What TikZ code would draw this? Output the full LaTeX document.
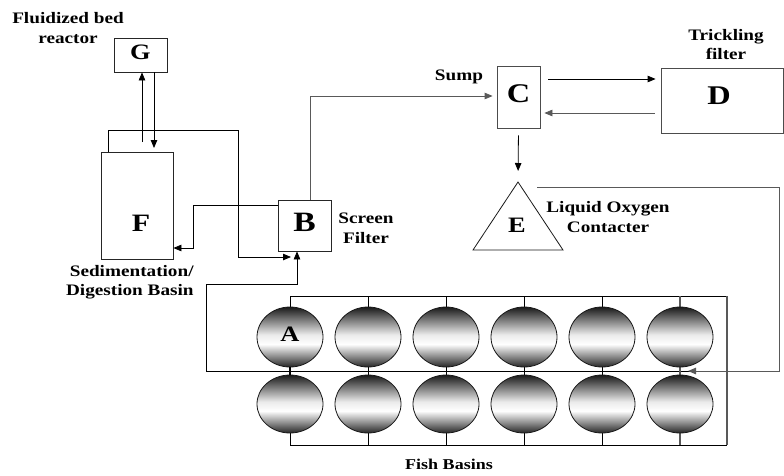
\documentclass[tikz,border=0pt]{standalone}
\usepackage{fontspec}
\usepackage{graphicx}
\setmainfont{Liberation Serif}
\usetikzlibrary{arrows.meta,shapes.geometric}

% wide bold lettering, one or more centred lines
\newcommand\wtext[2][c]{\scalebox{1.2}[1]{\begin{tabular}{@{}#1@{}}#2\end{tabular}}}

% dark rim at top and bottom, bright band just below the middle
\pgfdeclareverticalshading{basinshade}{100bp}{%
  color(0bp)=(black!85); color(25bp)=(black!85); color(44bp)=(white);
  color(52bp)=(white!92!black); color(75bp)=(black!90); color(100bp)=(black!90)}

\begin{document}
\begin{tikzpicture}[x=1pt,y=-1pt,
  line width=0.8pt,
  unit/.style={draw=black!85, line width=0.8pt, inner sep=0pt},
  letter/.style={inner sep=0pt, font=\bfseries\fontsize{#1}{#1}\selectfont},
  letter/.default=22,
  lbl/.style={inner sep=0pt, font=\bfseries\fontsize{16}{19.5}\selectfont},
  arr/.style={-{Triangle[length=8pt,width=6.5pt]}},
  soft/.style={draw=black!65},
  tank/.style={ellipse, draw=black!90, line width=0.8pt, inner sep=0pt,
    minimum width=66pt, minimum height=#1, shading=basinshade},
  tank/.default=60pt]

\useasboundingbox (0,0) rectangle (784,475);

% ---- process units ----
\node[unit, minimum width=53pt, minimum height=34pt, letter] (G) at (140.5,55) {\wtext{G}};
\node[unit, minimum width=72pt, minimum height=107pt] (F) at (137,205.5) {};
\node[letter=25] (Fl) at (141,226) {\wtext{F}};
\node[unit, minimum width=53pt, minimum height=51pt, letter=28] (B) at (304.5,225.5) {\wtext{B}};
\node[unit, draw=black!70, minimum width=43pt, minimum height=62pt, letter=27] (C) at (518.5,97) {\wtext{C}};
\node[unit, draw=black!70, minimum width=122pt, minimum height=65pt] (D) at (722,100.5) {};
\node[letter=27] (Dl) at (719,99) {\wtext{D}};

% liquid oxygen contacter (triangle)
\coordinate (Etop) at (518,182);
\coordinate (Eleft) at (473,250);
\coordinate (Eright) at (563,250);
\draw[black!90] (Etop) -- (Eright) -- (Eleft) -- cycle;
\node[letter=22] (El) at (517,228) {\wtext{E}};

% ---- labels ----
\node[lbl] (lG) at (68,29.5) {\wtext{Fluidized bed\\reactor}};
\node[lbl, anchor=east] (lF) at (194,282) {\wtext[r]{Sedimentation/\\Digestion Basin}};
\node[lbl] (lB) at (366,229.5) {\wtext{Screen\\Filter}};
\node[lbl] (lC) at (459,77) {\wtext{Sump}};
\node[lbl] (lD) at (726,46) {\wtext{Trickling\\filter}};
\node[lbl] (lE) at (608,218.5) {\wtext{Liquid Oxygen\\Contacter}};
\node[lbl, font=\bfseries\fontsize{15}{18}\selectfont] (lA) at (449,466) {\wtext{Fish Basins}};

% ---- fish basin manifold ----
\coordinate (gridNW) at (290,296);
\coordinate (gridNE) at (727,296);
\coordinate (gridSW) at (290,445);
\coordinate (gridSE) at (727,445);
\coordinate (midW) at (206,371);
\coordinate (midE) at (727,371);
\draw (gridNW) -- (gridNE);
\draw (gridSW) -- (gridSE);
\draw[soft, line width=1.1pt] (gridNE) -- (gridSE);
\draw (midW) -- (midE);
\foreach \i/\x in {1/290,2/368,3/446,4/524,5/602,6/680}{
  \coordinate (col\i) at (\x,371);
}
\foreach \i in {1,...,5}{
  \draw (col\i |- gridNW) -- (col\i |- gridSW);
}
\draw[soft, line width=1.1pt] (col6 |- gridNW) -- (col6 |- gridSW);

% ---- connectors ----
% G <-> F
\coordinate (gfUp) at (142,142);
\coordinate (gfDown) at (154,148);
\draw[arr] (gfUp) -- (gfUp |- G.south);
\draw[arr] (gfDown |- G.south) -- (gfDown);

% F overflow to B
\coordinate (fo1) at (108,130);
\coordinate (fo2) at (238,130);
\coordinate (fo3) at (238,257);
\coordinate (fo4) at (291,257);
\draw[arr] (fo1 |- F.north) -- (fo1) -- (fo2) -- (fo3) -- (fo4);

% B solids to F
\coordinate (bf1) at (193,205);
\coordinate (bf2) at (193,248);
\draw[arr] (bf1 -| B.west) -- (bf1) -- (bf2) -- (bf2 -| F.east);

% basins drain to B
\coordinate (fb1) at (206,284);
\coordinate (fb2) at (297,284);
\draw[arr] (midW) -- (fb1) -- (fb2) -- (fb2 |- B.south);

% B to sump
\coordinate (bc1) at (310,96);
\draw[arr, soft, shorten >=4pt] (bc1 |- B.north) -- (bc1) -- (bc1 -| C.west);

% sump <-> trickling filter
\coordinate (cdTop) at (600,79);
\coordinate (cdBot) at (600,113);
\draw[arr, shorten <=8pt, shorten >=5pt] (cdTop -| C.east) -- (cdTop -| D.west);
\draw[arr, soft, shorten <=6pt, shorten >=4pt] (cdBot -| D.west) -- (cdBot -| C.east);

% sump to contacter
\draw[arr, shorten <=7pt, shorten >=11pt] (C.south) -- (Etop);

% contacter back to basins
\coordinate (eo1) at (537,187);
\coordinate (eo2) at (779,187);
\coordinate (eo3) at (779,371);
\coordinate (eo4) at (688,371);
\draw[arr, soft, line width=1pt] (eo1) -- (eo2) -- (eo3) -- (eo4);

% ---- fish basins ----
\foreach \i in {1,...,6}{
  \node[tank] (t\i) at (col\i |- 0,337) {};
  \node[tank=58pt] (b\i) at (col\i |- 0,404) {};
}
\node[letter=22] (Al) at (t1) {\wtext{A}};
\draw[line width=2.6pt] (t1.south) -- (b1.north);

\end{tikzpicture}
\end{document}
